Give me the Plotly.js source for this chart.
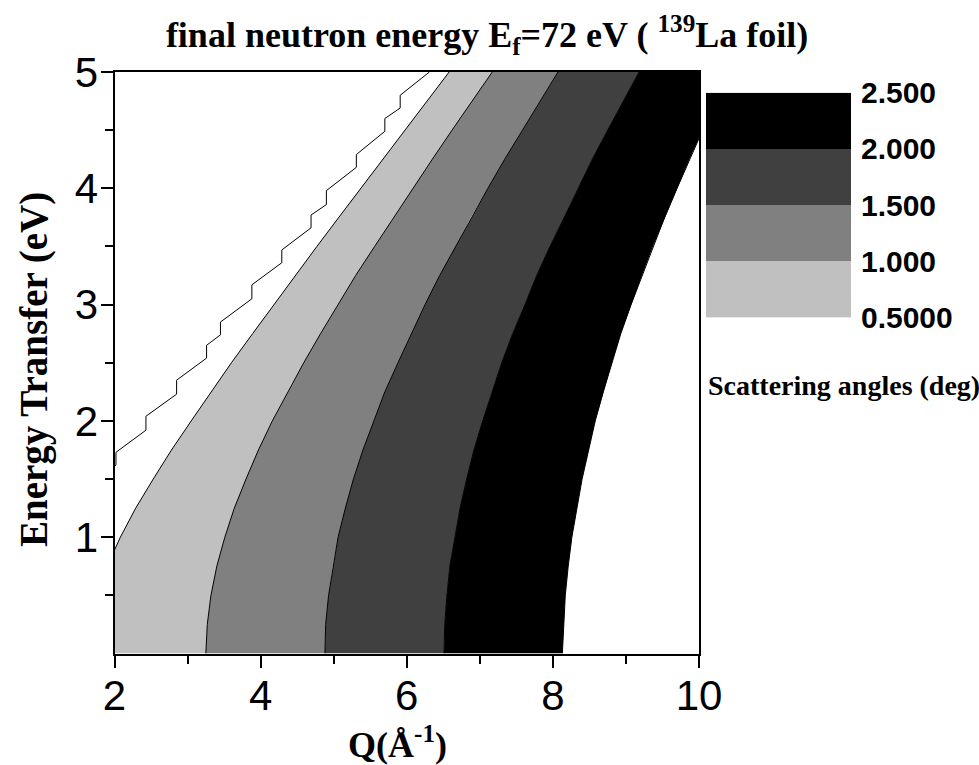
<!DOCTYPE html>
<html>
<head>
<meta charset="utf-8">
<script src="https://cdn.plot.ly/plotly-3.0.1.min.js"></script>
<style>html,body{margin:0;padding:0;background:#fff;}#chart{width:979px;height:765px;}</style>
</head>
<body>
<div id="chart"></div>
<script>
// Energy transfer grid (eV) at which the contour boundaries were read
const energy = [0, 0.25, 0.5, 0.75, 1, 1.25, 1.5, 1.75, 2, 2.25, 2.5, 2.75, 3, 3.25, 3.5, 3.75, 4, 4.25, 4.5, 4.75, 5];
// Q (1/Angstrom) of each scattering-angle contour at those energies
const q05 = [1.63, 1.66, 1.75, 1.90, 2.08, 2.29, 2.53, 2.78, 3.05, 3.32, 3.60, 3.89, 4.18, 4.47, 4.77, 5.07, 5.37, 5.67, 5.97, 6.27, 6.58];
const q10 = [3.25, 3.27, 3.32, 3.40, 3.51, 3.64, 3.80, 3.97, 4.16, 4.37, 4.59, 4.82, 5.06, 5.30, 5.56, 5.82, 6.08, 6.35, 6.62, 6.89, 7.17];
const q15 = [4.88, 4.89, 4.93, 4.99, 5.06, 5.16, 5.27, 5.40, 5.55, 5.70, 5.88, 6.06, 6.25, 6.45, 6.67, 6.88, 7.11, 7.34, 7.58, 7.82, 8.07];
const q20 = [6.51, 6.52, 6.55, 6.59, 6.66, 6.73, 6.82, 6.92, 7.04, 7.17, 7.30, 7.45, 7.61, 7.78, 7.96, 8.15, 8.34, 8.54, 8.75, 8.96, 9.18];
const q25 = [8.13, 8.15, 8.17, 8.21, 8.26, 8.33, 8.40, 8.49, 8.58, 8.69, 8.81, 8.93, 9.07, 9.22, 9.37, 9.53, 9.70, 9.87, 10.05, 10.24, 10.44];
// Scattering-angle levels (deg) and their labels
const levels = [0.5, 1.0, 1.5, 2.0, 2.5];
const levelLabels = ['0.5000', '1.000', '1.500', '2.000', '2.500'];
const bandColors = ['#c0c0c0', '#808080', '#404040', '#000000'];
// Stepped edge of the computed region (kinematic limit)
const edgeQ = [2.00, 2.02, 2.02, 2.43, 2.43, 2.85, 2.85, 3.26, 3.26, 3.45, 3.45, 3.88, 3.88, 4.29, 4.29, 4.69, 4.69, 4.90, 4.90, 5.31, 5.31, 5.70, 5.70, 5.91, 5.91, 6.31];
const edgeE = [1.61, 1.62, 1.73, 1.92, 2.04, 2.23, 2.35, 2.54, 2.65, 2.74, 2.85, 3.05, 3.17, 3.36, 3.47, 3.66, 3.77, 3.86, 3.98, 4.18, 4.29, 4.49, 4.60, 4.69, 4.80, 5.00];
// Axis ticks
const xTicks = [2, 4, 6, 8, 10];
const xMinor = [3, 5, 7, 9];
const yTicks = [1, 2, 3, 4, 5];
const yMinor = [0.5, 1.5, 2.5, 3.5, 4.5];

const SANS = 'Liberation Sans, Arial, sans-serif';
const SERIF = 'Liberation Serif, Times New Roman, serif';
const contours = [q05, q10, q15, q20, q25];

const traces = [];
// filled bands between consecutive contours
for (let i = 0; i < bandColors.length; i++) {
  const lo = contours[i], hi = contours[i + 1];
  traces.push({
    type: 'scatter', mode: 'lines', xaxis: 'x', yaxis: 'y',
    x: lo.concat(hi.slice().reverse()),
    y: energy.concat(energy.slice().reverse()),
    fill: 'toself', fillcolor: bandColors[i],
    line: {width: 0, color: bandColors[i]},
    hoverinfo: 'skip', showlegend: false
  });
}
// contour lines
contours.forEach(function (q) {
  traces.push({
    type: 'scatter', mode: 'lines', xaxis: 'x', yaxis: 'y',
    x: q, y: energy, line: {width: 1, color: '#000'},
    hoverinfo: 'skip', showlegend: false
  });
});
// stepped limit line
traces.push({
  type: 'scatter', mode: 'lines', xaxis: 'x', yaxis: 'y',
  x: edgeQ, y: edgeE, line: {width: 1, color: '#000'},
  hoverinfo: 'skip', showlegend: false
});
// colour key
const mids = [];
for (let i = 0; i < bandColors.length; i++) mids.push([(levels[i] + levels[i + 1]) / 2]);
const cs = [];
bandColors.forEach(function (c, i) {
  cs.push([i / bandColors.length, c]);
  cs.push([(i + 1) / bandColors.length, c]);
});
traces.push({
  type: 'heatmap', xaxis: 'x2', yaxis: 'y2',
  x: [0, 1], y: levels, z: mids,
  zmin: levels[0], zmax: levels[levels.length - 1],
  colorscale: cs, showscale: false, hoverinfo: 'skip'
});

const axisCommon = {
  showline: true, linewidth: 2, linecolor: '#000', mirror: true,
  ticks: 'outside', ticklen: 12, tickwidth: 2, tickcolor: '#000',
  showgrid: false, zeroline: false,
  tickfont: {family: SANS, size: 42, color: '#000'}
};

const layout = {
  width: 979, height: 765,
  margin: {l: 0, r: 0, t: 0, b: 0, pad: 0},
  paper_bgcolor: '#fff', plot_bgcolor: '#fff',
  showlegend: false,
  title: {
    text: 'final neutron energy E<sub>f</sub>=72 eV ( <sup>139</sup>La foil)',
    font: {family: SERIF, size: 36, color: '#000', weight: 'bold'},
    xref: 'container', yref: 'container', x: 0.4975, y: 0.955,
    xanchor: 'center', yanchor: 'middle'
  },
  xaxis: Object.assign({}, axisCommon, {
    domain: [0.11696, 0.71399], range: [2, 10], anchor: 'y',
    tickmode: 'array', tickvals: xTicks, ticklabelstandoff: -8,
    minor: {tickmode: 'array', tickvals: xMinor, ticks: 'outside', ticklen: 8, tickwidth: 2, tickcolor: '#000'}
  }),
  yaxis: Object.assign({}, axisCommon, {
    domain: [0.14575, 0.90588], range: [0, 5], anchor: 'x',
    tickmode: 'array', tickvals: yTicks, ticklabelstandoff: -6,
    minor: {tickmode: 'array', tickvals: yMinor, ticks: 'outside', ticklen: 8, tickwidth: 2, tickcolor: '#000'}
  }),
  xaxis2: {
    domain: [0.72114, 0.86925], range: [0, 1], anchor: 'y2',
    visible: false, fixedrange: true
  },
  yaxis2: {
    domain: [0.58497, 0.87882], range: [levels[0], levels[levels.length - 1]], anchor: 'x2',
    side: 'right', showline: false, showgrid: false, zeroline: false, ticks: '',
    tickmode: 'array', tickvals: levels, ticktext: levelLabels,
    ticklabelstandoff: 9,
    tickfont: {family: SANS, size: 30, color: '#000', weight: 'bold'}
  },
  annotations: [
    {
      text: 'Scattering angles (deg)', xref: 'paper', yref: 'paper',
      x: 0.7212, y: 0.4967, xanchor: 'left', yanchor: 'middle', showarrow: false,
      font: {family: SERIF, size: 28, color: '#000', weight: 'bold'}
    },
    {
      text: 'Q(Å<sup>-1</sup>)', xref: 'paper', yref: 'paper',
      x: 397 / 979, y: 1 - 742 / 765, xanchor: 'center', yanchor: 'middle', showarrow: false,
      font: {family: SERIF, size: 36, color: '#000', weight: 'bold'}
    },
    {
      text: 'Energy Transfer (eV)', xref: 'paper', yref: 'paper', textangle: -90,
      x: 34 / 979, y: 1 - 370 / 765, xanchor: 'center', yanchor: 'middle', showarrow: false,
      font: {family: SERIF, size: 39, color: '#000', weight: 'bold'}
    }
  ]
};

Plotly.newPlot('chart', traces, layout, {staticPlot: true, displayModeBar: false});
</script>
</body>
</html>
